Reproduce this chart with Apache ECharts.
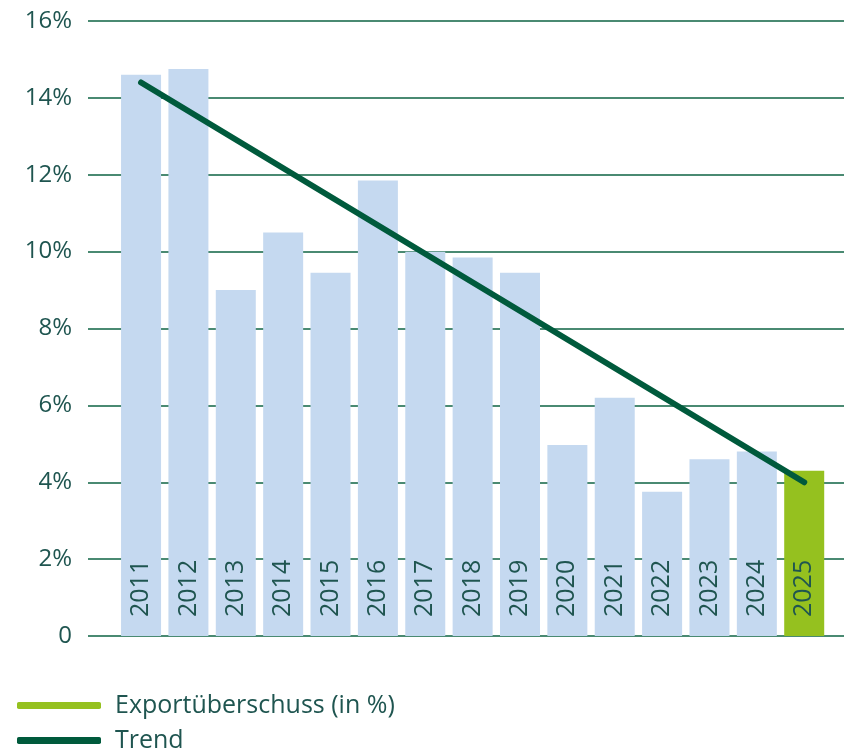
<!DOCTYPE html>
<html>
<head>
<meta charset="utf-8">
<script src="https://cdn.jsdelivr.net/npm/echarts@6/dist/echarts.min.js"></script>
<style>
  html, body { margin: 0; padding: 0; background: #fff; }
  #chart { width: 844px; height: 751px; }
</style>
</head>
<body>
<div id="chart"></div>
<script>
// Jahre und Werte
const years = [2011, 2012, 2013, 2014, 2015, 2016, 2017, 2018, 2019, 2020, 2021, 2022, 2023, 2024, 2025]
const exportValues = [14.6, 14.75, 9.0, 10.5, 9.45, 11.85, 10.0, 9.85, 9.45, 4.97, 6.2, 3.75, 4.6, 4.8, 4.3]
// Trendlinie: Anfangs- und Endpunkt
const trendPoints = [[2011, 14.4], [2025, 4.0]]
const yTicks = [0, 2, 4, 6, 8, 10, 12, 14, 16]

const textColor = '#1f5550'
const barBlue = '#c5d9f0'
const barGreen = '#95c11f'
const trendColor = '#005a3c'
const font = { fontFamily: 'Open Sans', fontSize: 24, color: textColor }

// eine Legende pro Eintrag, damit sie untereinander stehen
function legendItem(name, color, top) {
  return {
    orient: 'vertical',
    left: 12,
    top: top,
    itemWidth: 84,
    itemHeight: 7,
    textStyle: Object.assign({}, font, { fontSize: 25, padding: [0, 0, 0, 9] }),
    data: [{ name: name, icon: 'roundRect', itemStyle: { color: color } }]
  }
}

let myChart = echarts.init(document.getElementById('chart'))
myChart.setOption({
  animation: false,
  grid: {
    left: 88,
    right: 0,
    top: 21,
    bottom: 115
  },
  xAxis: {
    type: 'value',
    // Rand links/rechts wie im Original
    min: 2009.88,
    max: 2025.84,
    show: false
  },
  yAxis: {
    type: 'value',
    min: yTicks[0],
    max: yTicks[yTicks.length - 1],
    interval: 2,
    axisLine: { show: false },
    axisTick: { show: false },
    axisLabel: Object.assign({
      margin: 16,
      formatter: function (v) {
        return v === 0 ? '0' : v + '%'
      }
    }, font),
    splitLine: {
      lineStyle: { color: '#4a8a72', width: 2 }
    }
  },
  legend: [
    legendItem('Exportüberschuss (in %)', barGreen, 688),
    legendItem('Trend', trendColor, 723)
  ],
  series: [
    {
      name: 'Exportüberschuss (in %)',
      type: 'bar',
      barWidth: 40,
      data: years.map(function (y, i) {
        return {
          value: [y, exportValues[i]],
          itemStyle: { color: i === years.length - 1 ? barGreen : barBlue }
        }
      }),
      label: Object.assign({
        show: true,
        position: 'insideBottom',
        rotate: 90,
        align: 'left',
        verticalAlign: 'middle',
        distance: 19,
        formatter: function (p) {
          return String(p.value[0])
        }
      }, font, { fontSize: 25 })
    },
    {
      name: 'Trend',
      type: 'line',
      data: trendPoints,
      symbol: 'none',
      z: 5,
      lineStyle: { color: trendColor, width: 6, cap: 'round' }
    }
  ]
})
</script>
</body>
</html>
